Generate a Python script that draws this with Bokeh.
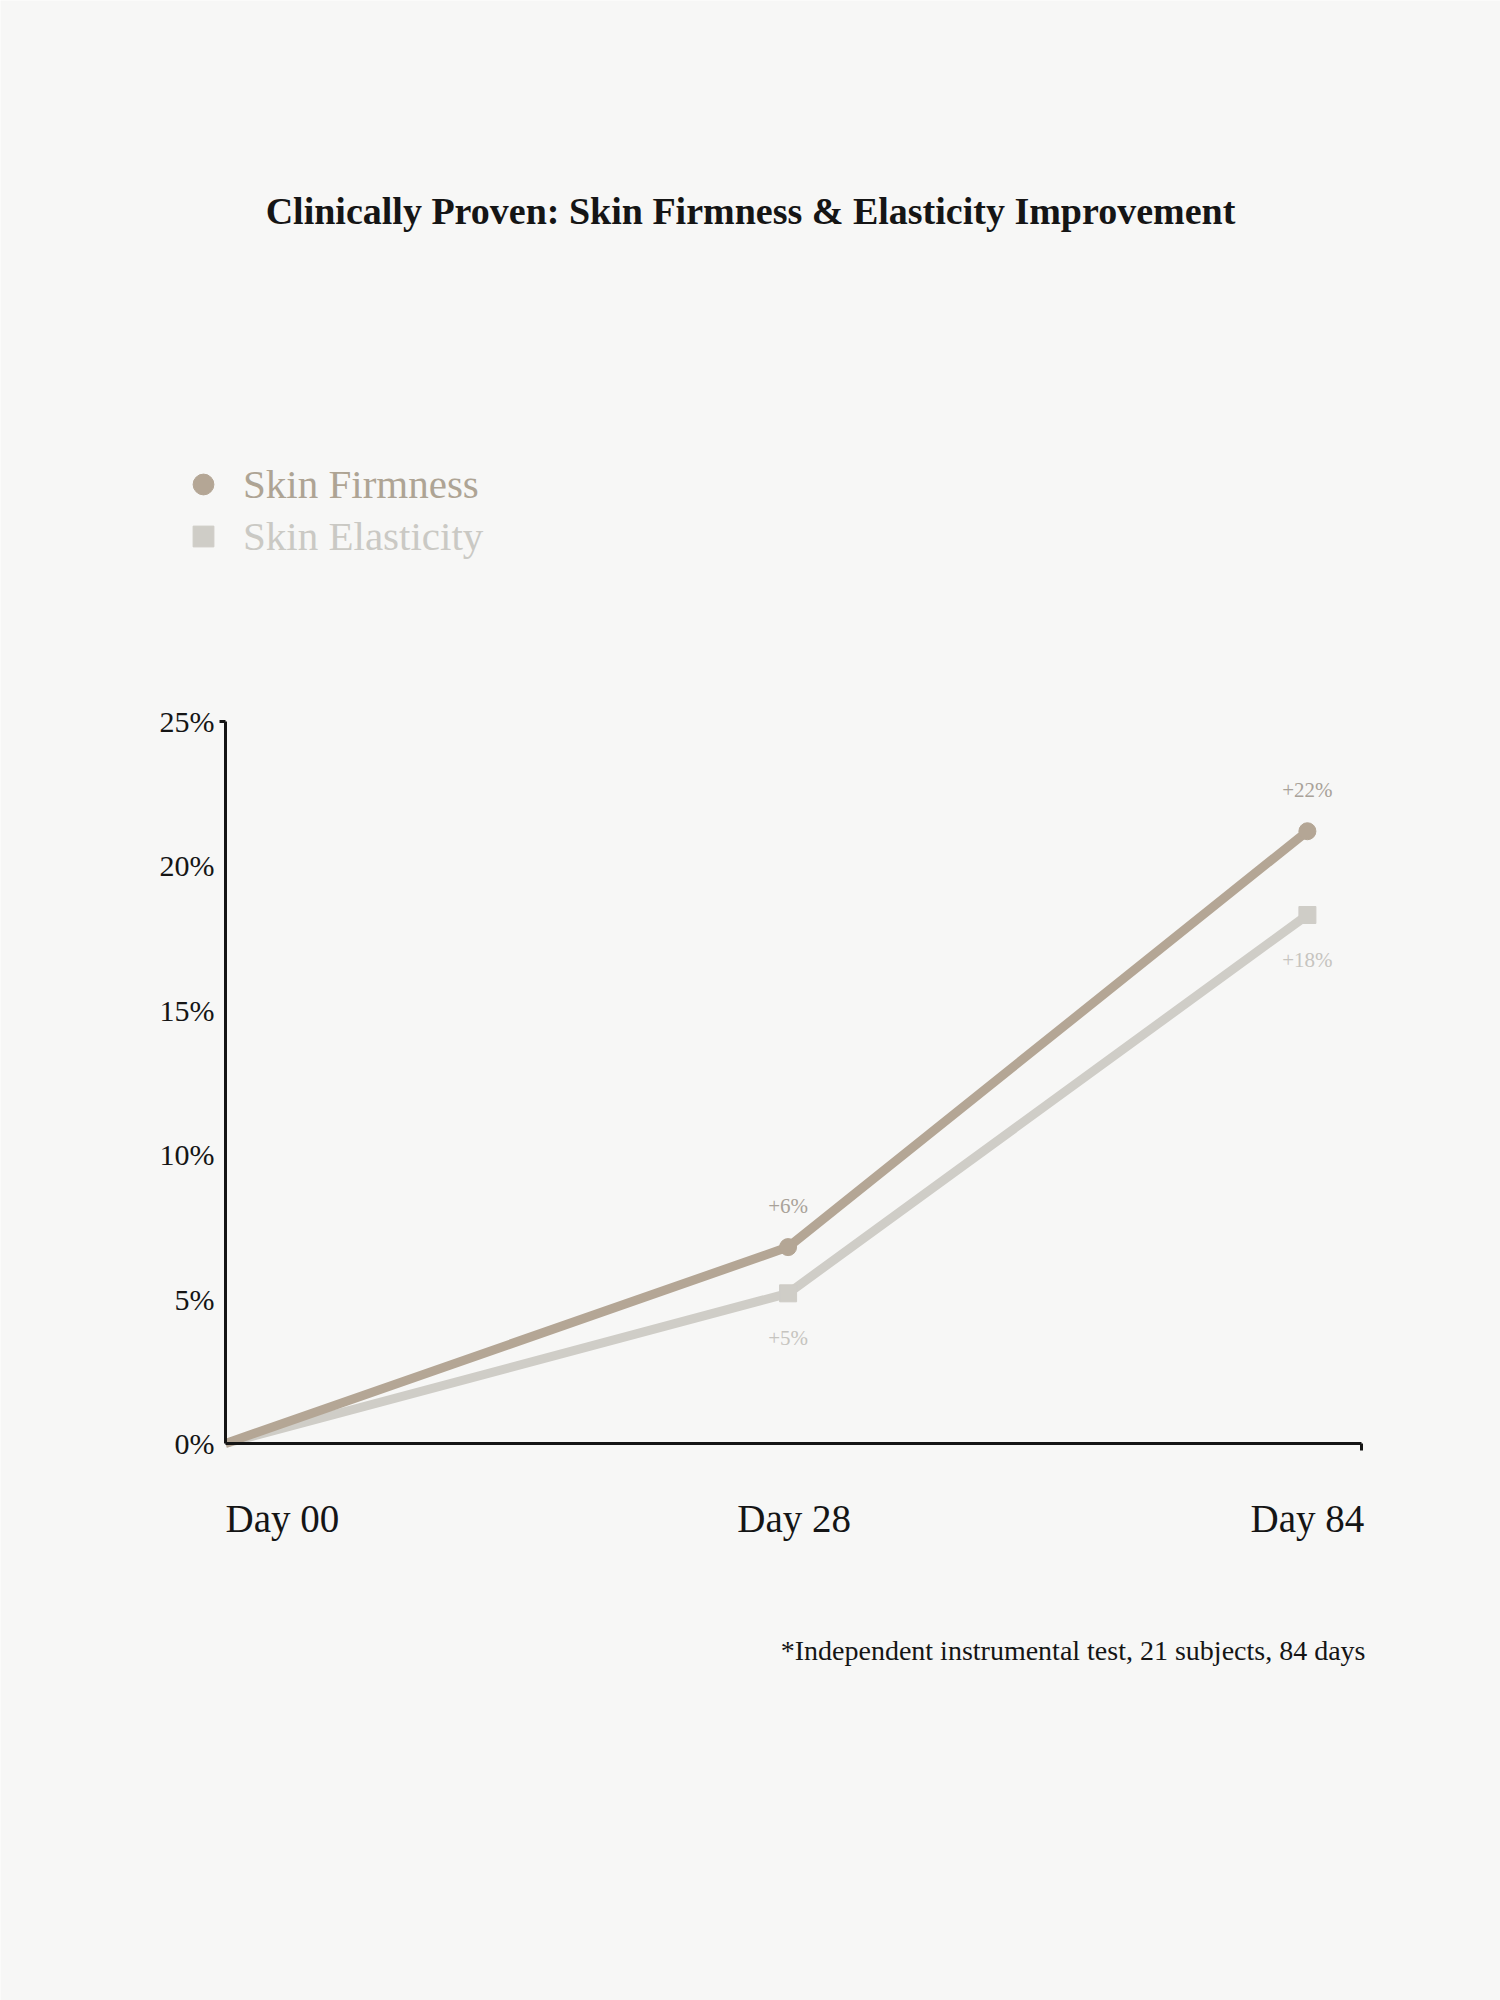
from bokeh.plotting import figure
from bokeh.models import (Range1d, FixedTicker, Label, LabelSet, Legend, LegendItem,
                          ColumnDataSource, CDSView, IndexFilter)
from bokeh.embed import file_html
from bokeh.resources import INLINE

# ---- data ----
days = ["Day 00", "Day 28", "Day 84"]
x_pos = [0.0, 0.52, 1.0]          # horizontal placement of the three visits as drawn
firmness = [0.0, 6.8, 21.2]
elasticity = [0.0, 5.2, 18.3]
firm_labels = ["", "+6%", "+22%"]
elast_labels = ["", "+5%", "+18%"]
y_ticks = [0, 5, 10, 15, 20, 25]
y_tick_labels = ["0%", "5%", "10%", "15%", "20%", "25%"]
x_end = 1.05
y_end = 25

title_text = "Clinically Proven: Skin Firmness & Elasticity Improvement"
footnote_text = "*Independent instrumental test, 21 subjects, 84 days"
series_names = ["Skin Firmness", "Skin Elasticity"]

# ---- layout (pixels) ----
W, H = 1500, 2000
AX_LEFT, AX_RIGHT = 225, 1361      # x of axis start / end
AX_BOTTOM, AX_TOP = 1443, 721      # y of 0% / 25%
px_x = (AX_RIGHT - AX_LEFT) / x_end
px_y = (AX_BOTTOM - AX_TOP) / y_end
x_range = Range1d(-AX_LEFT / px_x, (W - AX_LEFT) / px_x)
y_range = Range1d(-(H - AX_BOTTOM) / px_y, AX_BOTTOM / px_y)

# ---- style ----
BG = "#f7f7f6"
INK = "#151515"
FIRM = "#b4a695"
FIRM_TXT = "#aea494"
FIRM_LBL = "#a9a299"
ELAS = "#cfcdc7"
ELAS_TXT = "#cac9c4"
ELAS_LBL = "#c6c4bf"
FONT = "Liberation Serif"

src = ColumnDataSource(dict(x=x_pos, firm=firmness, elas=elasticity,
                            firm_lbl=firm_labels, elas_lbl=elast_labels))
marker_view = CDSView(filter=IndexFilter([1, 2]))

p = figure(width=W, height=H, x_range=x_range, y_range=y_range, title=None,
           min_border=0, output_backend="svg", toolbar_location=None,
           background_fill_color=BG, border_fill_color=BG)
p.outline_line_color = None
p.grid.visible = False

# axes (drawn inside the frame at the data origin)
p.xaxis.fixed_location = 0
p.xaxis.bounds = (0, x_end)
p.xaxis.ticker = FixedTicker(ticks=[], minor_ticks=[x_end])
p.xaxis.axis_line_width = 3
p.xaxis.axis_line_color = INK
p.xaxis.major_tick_line_color = None
p.xaxis.minor_tick_in = 0
p.xaxis.minor_tick_out = 7
p.xaxis.minor_tick_line_width = 3
p.xaxis.minor_tick_line_color = INK

p.yaxis.fixed_location = 0
p.yaxis.bounds = (0, y_end)
p.yaxis.ticker = FixedTicker(ticks=y_ticks, minor_ticks=[y_end])
p.yaxis.major_label_overrides = {t: l for t, l in zip(y_ticks, y_tick_labels)}
p.yaxis.axis_line_width = 3
p.yaxis.axis_line_color = INK
p.yaxis.major_tick_line_color = None
p.yaxis.major_tick_out = 0
p.yaxis.major_tick_in = 0
p.yaxis.minor_tick_in = 0
p.yaxis.minor_tick_out = 6
p.yaxis.minor_tick_line_width = 3
p.yaxis.minor_tick_line_color = INK
p.yaxis.major_label_standoff = 5
p.yaxis.major_label_text_font = FONT
p.yaxis.major_label_text_font_size = "30px"
p.yaxis.major_label_text_color = INK

# series
p.line("x", "elas", source=src, line_width=9, line_color=ELAS, line_join="round")
p.line("x", "firm", source=src, line_width=9, line_color=FIRM, line_join="round")
r_el = p.scatter("x", "elas", source=src, view=marker_view, marker="square", size=17,
                 fill_color=ELAS, line_color=ELAS)
r_fi = p.scatter("x", "firm", source=src, view=marker_view, marker="circle", size=17,
                 fill_color=FIRM, line_color=FIRM)

# value labels
p.add_layout(LabelSet(x="x", y="firm", text="firm_lbl", source=src, y_offset=41,
                      text_align="center", text_baseline="middle", text_font=FONT,
                      text_font_size="21px", text_color=FIRM_LBL))
p.add_layout(LabelSet(x="x", y="elas", text="elas_lbl", source=src, y_offset=-45,
                      text_align="center", text_baseline="middle", text_font=FONT,
                      text_font_size="21px", text_color=ELAS_LBL))

# x category labels
aligns = ["left", "center", "center"]
nudges = [0, 6, 0]
for xv, d, a, dx in zip(x_pos, days, aligns, nudges):
    p.add_layout(Label(x=xv, y=H - 1518, x_units="data", y_units="screen", text=d,
                       x_offset=dx, text_align=a, text_baseline="middle", text_font=FONT,
                       text_font_size="39px", text_color=INK))

# legend (two single-item legends so each label keeps its own colour)
GLYPH = 52
for r, name, col, top in [(r_fi, series_names[0], FIRM_TXT, 458),
                          (r_el, series_names[1], ELAS_TXT, 510)]:
    lg = Legend(items=[LegendItem(label=name, renderers=[r])],
                location=(177, H - top - GLYPH),
                glyph_width=GLYPH, glyph_height=GLYPH, label_standoff=14, padding=0,
                margin=0, spacing=0, background_fill_alpha=0, border_line_color=None,
                label_text_font=FONT, label_text_font_size="41px", label_text_color=col,
                label_text_baseline="middle")
    p.add_layout(lg)

# title and footnote
p.add_layout(Label(x=750, y=H - 210, x_units="screen", y_units="screen", text=title_text,
                   text_align="center", text_baseline="middle", text_font=FONT,
                   text_font_size="38px", text_font_style="bold", text_color=INK))
p.add_layout(Label(x=1365, y=H - 1650, x_units="screen", y_units="screen", text=footnote_text,
                   text_align="right", text_baseline="middle", text_font=FONT,
                   text_font_size="28px", text_color=INK))

open("out.html", "w").write(file_html(p, INLINE))
